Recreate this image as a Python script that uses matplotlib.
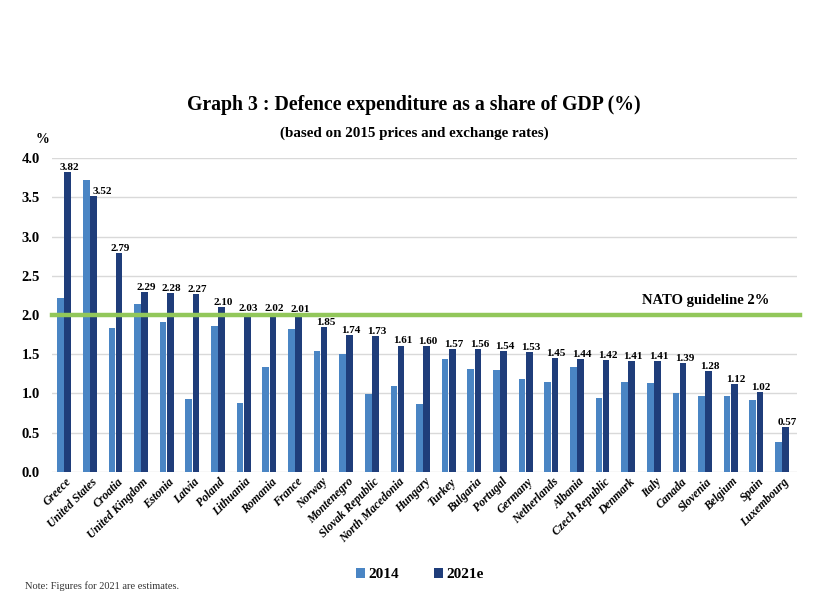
import matplotlib
matplotlib.use('Agg')
import matplotlib.pyplot as plt
import numpy as np

plt.rcParams['font.family'] = ['Liberation Serif', 'DejaVu Serif']

countries = ['Greece', 'United States', 'Croatia', 'United Kingdom', 'Estonia', 'Latvia',
             'Poland', 'Lithuania', 'Romania', 'France', 'Norway', 'Montenegro',
             'Slovak Republic', 'North Macedonia', 'Hungary', 'Turkey', 'Bulgaria',
             'Portugal', 'Germany', 'Netherlands', 'Albania', 'Czech Republic', 'Denmark',
             'Italy', 'Canada', 'Slovenia', 'Belgium', 'Spain', 'Luxembourg']

share_2014 = [2.22, 3.72, 1.84, 2.14, 1.91, 0.93, 1.86, 0.88, 1.34, 1.82, 1.54, 1.50,
              0.99, 1.09, 0.86, 1.44, 1.31, 1.30, 1.18, 1.15, 1.34, 0.94, 1.15,
              1.13, 1.00, 0.97, 0.97, 0.91, 0.38]

share_2021 = [3.82, 3.52, 2.79, 2.29, 2.28, 2.27, 2.10, 2.03, 2.02, 2.01, 1.85, 1.74,
              1.73, 1.61, 1.60, 1.57, 1.56, 1.54, 1.53, 1.45, 1.44, 1.42, 1.41,
              1.41, 1.39, 1.28, 1.12, 1.02, 0.57]

nato_guideline = 2.0

light_blue = '#4a85c4'
dark_blue = '#1f3d7a'
green = '#92c75a'

fig = plt.figure(figsize=(8.28, 5.92), dpi=100)
ax = fig.add_axes([0.063, 0.2032, 0.900, 0.5294])

x = np.arange(len(countries))
w = 0.26
ax.bar(x - 0.14, share_2014, width=w, color=light_blue, label='2014', zorder=3)
bars = ax.bar(x + 0.14, share_2021, width=w, color=dark_blue, label='2021e', zorder=3)

for i, bar in enumerate(bars):
    val = bar.get_height()
    if countries[i] == 'United States':
        ax.annotate(f'{val:.2f}', (bar.get_x(), val), xytext=(2, 1.5),
                    textcoords='offset points', ha='left', va='baseline',
                    fontsize=8, fontweight='bold', zorder=5)
    else:
        ax.annotate(f'{val:.2f}', (bar.get_x() + bar.get_width() / 2, val), xytext=(1, 1.5),
                    textcoords='offset points', ha='center', va='baseline',
                    fontsize=8, fontweight='bold', zorder=5)

ax.axhline(nato_guideline, color=green, linewidth=3.2, zorder=4, xmin=0, xmax=1.004, clip_on=False)
ax.text(len(countries) - 1.5, nato_guideline + 0.1, 'NATO guideline 2%', ha='right', va='bottom',
        fontsize=10.5, fontweight='bold')

ax.set_ylim(0, 4.0)
ax.set_xlim(-0.47, len(countries) - 0.4)
ax.set_yticks(np.arange(0, 4.01, 0.5))
ax.set_yticklabels([f'{v:.1f}' for v in np.arange(0, 4.01, 0.5)], fontsize=10.5, fontweight='bold')
ax.yaxis.grid(True, color='#d9d9d9', linewidth=1, zorder=0)
ax.tick_params(axis='both', length=0)
ax.tick_params(axis='y', pad=9)
ax.tick_params(axis='x', pad=3)
for s in ax.spines.values():
    s.set_visible(False)

ax.set_xticks(x + 0.05)
ax.set_xticklabels(countries, rotation=45, ha='right', rotation_mode='anchor',
                   fontsize=8.5, fontweight='bold', fontstyle='italic')

fig.text(0.5, 0.823, 'Graph 3 : Defence expenditure as a share of GDP (%)',
         ha='center', va='center', fontsize=14.2, fontweight='bold')
fig.text(0.5, 0.775, '(based on 2015 prices and exchange rates)',
         ha='center', va='center', fontsize=10.8, fontweight='bold')
fig.text(0.051, 0.764, '%', ha='center', va='center', fontsize=10, fontweight='bold')

fig.legend(loc='center', bbox_to_anchor=(0.507, 0.029), ncol=2, frameon=False,
           handlelength=0.6, handleheight=0.6, handletextpad=0.2, columnspacing=2.3,
           prop={'weight': 'bold', 'size': 11})

fig.text(0.03, 0.002, 'Note: Figures for 2021 are estimates.', ha='left', va='bottom',
         fontsize=7.5, color='#333333')

fig.savefig('out.png', dpi=100)
plt.close()
